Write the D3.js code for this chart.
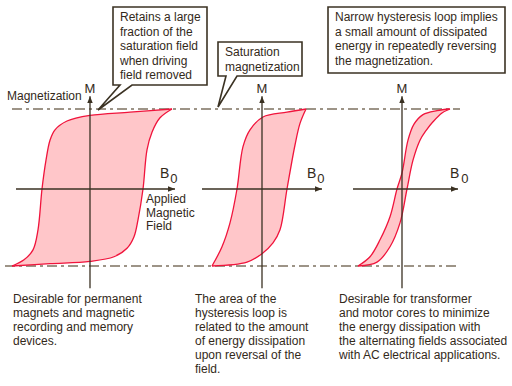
<!DOCTYPE html>
<html>
<head>
<meta charset="utf-8">
<script src="https://cdn.jsdelivr.net/npm/d3@7"></script>
<style>
  html, body { margin: 0; padding: 0; background: #fff; }
  svg { display: block; font-family: "Liberation Sans", Arial, Helvetica, sans-serif; }
</style>
</head>
<body>
<div id="chart"></div>
<script>
const width = 512;
const height = 386;

// B0 (field units) , M (% of saturation)
const hardUpper = [[8.2, 100], [4.0, 96], [0, 92], [-2.3, 85], [-3.5, 74], [-4.0, 61], [-4.4, 36], [-4.8, 0], [-5.2, -53], [-5.7, -79], [-6.6, -92], [-7.8, -100]];
const hardLower = [[-7.8, -100], [-4.0, -97], [0, -94], [2.4, -88], [3.7, -77], [4.4, -62], [4.8, -40], [5.3, 0], [5.7, 49], [6.2, 71], [7.0, 89], [8.2, 100]];

const midUpper = [[4.4, 100], [2.5, 96], [0.1, 90], [-1.2, 74], [-1.9, 53], [-2.5, 0], [-3.2, -44], [-4.0, -75], [-5.0, -100]];
const midLower = [[-5.0, -100], [-1.5, -95], [0, -84], [1.1, -70], [1.8, -53], [2.5, 0], [3.3, 55], [3.8, 82], [4.4, 100]];

const softUpper = [[4.8, 100], [3.5, 98], [2.1, 93], [1.2, 81], [0.6, 61], [0, 20], [-0.5, 0], [-1.2, -36], [-2.2, -66], [-3.2, -88], [-4.4, -100]];
const softLower = [[-4.4, -100], [-2.5, -95], [-1.2, -75], [-0.2, -44], [0.5, 0], [1.1, 36], [1.8, 61], [2.4, 73], [3.1, 84], [4.0, 95], [4.8, 100]];

const axisB = [[-7.4, 8.5], [-6.0, 6.0], [-4.9, 5.6]];
const axisM = [-129, 116];
const saturation = [100, -100];

const topNotes = [
  ["Retains a large", "fraction of the", "saturation field", "when driving", "field removed"],
  ["Saturation", "magnetization"],
  ["Narrow hysteresis loop implies", "a small amount of dissipated", "energy in repeatedly reversing", "the magnetization."]
];
const bottomNotes = [
  ["Desirable for permanent", "magnets and magnetic", "recording and memory", "devices."],
  ["The area of the", "hysteresis loop is", "related to the amount", "of energy dissipation", "upon reversal of the", "field."],
  ["Desirable for transformer", "and motor cores to minimize", "the energy dissipation with", "the alternating fields associated", "with AC electrical applications."]
];
const fieldLabel = ["Applied", "Magnetic", "Field"];

const ink = "#33291a";
const axisColor = "#3a3122";
const dashColor = "#7d7260";
const loopStroke = "#f0143c";
const loopFill = "#ffc6c9";

const svg = d3.select("#chart").append("svg")
  .attr("width", width)
  .attr("height", height)
  .attr("viewBox", [0, 0, width, height]);

const y = d3.scaleLinear().domain([-100, 0, 100]).range([266, 189, 109]);

const panels = [
  {cx: 90, upper: hardUpper, lower: hardLower, axis: axisB[0]},
  {cx: 262, upper: midUpper, lower: midLower, axis: axisB[1]},
  {cx: 402, upper: softUpper, lower: softLower, axis: axisB[2]}
];
panels.forEach(p => p.x = d3.scaleLinear().domain([-10, 10]).range([p.cx - 100, p.cx + 100]));

const defs = svg.append("defs");
defs.append("marker")
  .attr("id", "arrow")
  .attr("viewBox", "0 0 10 10")
  .attr("refX", 10).attr("refY", 5)
  .attr("markerWidth", 7).attr("markerHeight", 7)
  .attr("markerUnits", "userSpaceOnUse")
  .attr("orient", "auto")
  .append("path")
  .attr("d", "M0,1 L10,5 L0,9 Z")
  .attr("fill", axisColor);

// saturation lines
svg.append("g").selectAll("line")
  .data(saturation)
  .join("line")
  .attr("x1", d => d > 0 ? 12 : 5)
  .attr("x2", 460)
  .attr("y1", d => y(d)).attr("y2", d => y(d))
  .attr("stroke", dashColor)
  .attr("stroke-width", 1.5)
  .attr("stroke-dasharray", "10,4,3,4");

panels.forEach((p, i) => {
  const g = svg.append("g");
  const line = d3.line().x(d => p.x(d[0])).y(d => y(d[1])).curve(d3.curveCatmullRom.alpha(0.5));
  const up = line(p.upper);
  const lo = line(p.lower);
  g.append("path")
    .attr("d", up + lo.replace(/^M/, "L") + "Z")
    .attr("fill", loopFill)
    .attr("stroke", "none");
  g.selectAll("path.branch")
    .data([up, lo])
    .join("path")
    .attr("class", "branch")
    .attr("d", d => d)
    .attr("fill", "none")
    .attr("stroke", loopStroke)
    .attr("stroke-width", 1.3);

  // axes
  g.append("line")
    .attr("x1", p.x(p.axis[0])).attr("x2", p.x(p.axis[1]))
    .attr("y1", y(0)).attr("y2", y(0))
    .attr("stroke", axisColor).attr("stroke-width", 1.3)
    .attr("marker-end", "url(#arrow)");
  g.append("line")
    .attr("x1", p.x(0)).attr("x2", p.x(0))
    .attr("y1", y(axisM[0])).attr("y2", y(axisM[1]))
    .attr("stroke", axisColor).attr("stroke-width", 1.3)
    .attr("marker-end", "url(#arrow)");

  g.append("text")
    .attr("x", p.x(0)).attr("y", 93)
    .attr("text-anchor", "middle")
    .attr("font-size", 13)
    .attr("fill", ink)
    .text("M");

  const b = g.append("text")
    .attr("x", p.x(p.axis[1]) - (i === 2 ? 8 : 15)).attr("y", 178)
    .attr("font-size", 14)
    .attr("fill", ink);
  b.append("tspan").text("B");
  b.append("tspan").attr("dx", i === 2 ? 2 : 1).attr("dy", 5).attr("font-size", 13).text("0");

  // bottom note
  g.append("text")
    .attr("font-size", 12)
    .attr("fill", ink)
    .selectAll("tspan")
    .data(bottomNotes[i])
    .join("tspan")
    .attr("x", [13, 195, 339][i])
    .attr("y", (d, k) => 303 + k * 14)
    .text(d => d);
});

svg.append("text")
  .attr("x", 7).attr("y", 100)
  .attr("font-size", 12)
  .attr("fill", ink)
  .text("Magnetization");

svg.append("text")
  .attr("font-size", 12)
  .attr("fill", ink)
  .selectAll("tspan")
  .data(fieldLabel)
  .join("tspan")
  .attr("x", 146)
  .attr("y", (d, k) => 203 + k * 13.5)
  .text(d => d);

// callout boxes
const boxes = [
  {x: 113, y: 7, w: 94, h: 78, p: [120, 132], tip: [98, 110], top: 14},
  {x: 218, y: 42, w: 84, h: 34, p: [226, 237], tip: [218, 107], top: 14},
  {x: 328, y: 7, w: 177, h: 66, top: 14}
];
boxes.forEach((bx, i) => {
  let d;
  if (bx.p) {
    d = `M${bx.x},${bx.y}H${bx.x + bx.w}V${bx.y + bx.h}H${bx.p[1]}L${bx.tip[0]},${bx.tip[1]}L${bx.p[0]},${bx.y + bx.h}H${bx.x}Z`;
  } else {
    d = `M${bx.x},${bx.y}H${bx.x + bx.w}V${bx.y + bx.h}H${bx.x}Z`;
  }
  svg.append("path")
    .attr("d", d)
    .attr("fill", "#fff")
    .attr("stroke", "#3b3223")
    .attr("stroke-width", 1.6)
    .attr("stroke-linejoin", "miter");
  svg.append("text")
    .attr("font-size", 12)
    .attr("fill", ink)
    .selectAll("tspan")
    .data(topNotes[i])
    .join("tspan")
    .attr("x", bx.x + 7)
    .attr("y", (d, k) => bx.y + bx.top + k * 14.5)
    .text(d => d);
});
</script>
</body>
</html>
